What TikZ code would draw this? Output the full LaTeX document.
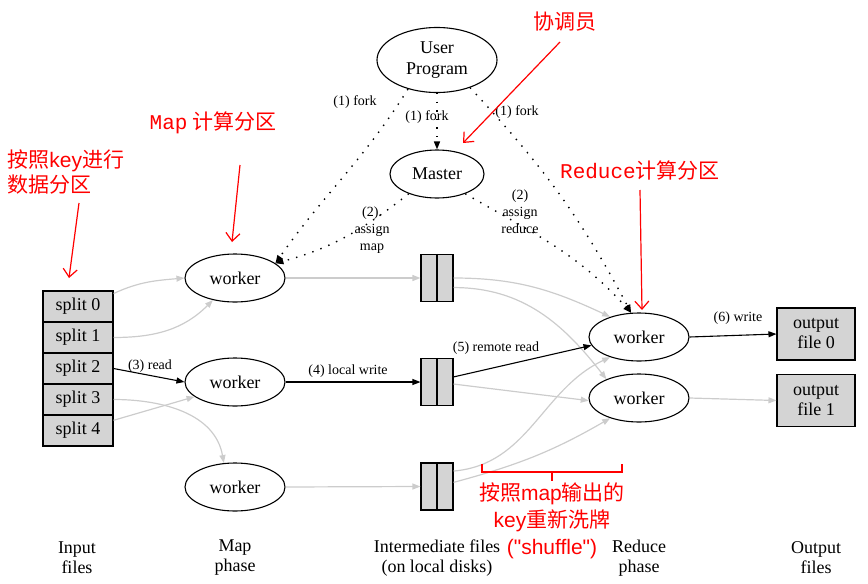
\documentclass[tikz,border=0pt]{standalone}
\usepackage{fontspec}
\setmainfont{Liberation Serif}
\newfontfamily\cjk{Noto Sans CJK SC}
\newfontfamily\redsans{Liberation Sans}
\newfontfamily\redmono{Liberation Mono}
\usetikzlibrary{shapes.geometric,arrows.meta}
\definecolor{boxgray}{gray}{0.83}
\definecolor{linegray}{gray}{0.8}
\tikzset{
  oval/.style={ellipse,draw,line width=0.55pt,inner sep=0pt,minimum width=50pt,minimum height=24pt,font=\fontsize{9}{10.5}\selectfont},
  splitbox/.style={draw,fill=boxgray,line width=0.55pt,inner sep=0pt,minimum width=35pt,minimum height=15.5pt,font=\fontsize{9}{10.5}\selectfont},
  filebox/.style={draw,fill=boxgray,line width=0.55pt,inner sep=0pt,minimum width=16pt,minimum height=23.5pt},
  outbox/.style={draw,fill=boxgray,line width=0.55pt,inner sep=0pt,minimum width=39pt,minimum height=26pt,align=center,font=\fontsize{9}{10}\selectfont},
  flow/.style={line width=0.55pt,-{Triangle[length=4pt,width=3pt]}},
  faint/.style={flow,draw=linegray,line width=0.6pt},
  ctrl/.style={flow,dash pattern=on 0.7pt off 3.6pt,line width=0.7pt},
  lbl/.style={font=\fontsize{7}{8.5}\selectfont,inner sep=0pt,align=center},
  caption/.style={font=\fontsize{9}{10}\selectfont,align=center,inner sep=0pt},
  note/.style={text=red,font=\cjk\fontsize{10.5}{12.5}\selectfont,inner sep=0pt},
  pointer/.style={draw=red,line width=0.6pt,-{Straight Barb[length=4pt,width=7pt]}}
}
\begin{document}
\begin{tikzpicture}[x=0.5pt,y=0.5pt]
    \useasboundingbox (0,0) rectangle (868,-584);
    \node[oval,minimum width=60pt,minimum height=32.5pt,align=center] (user) at (437,-60) {User\\Program};
    \node[oval,minimum width=47pt] (master) at (437,-174) {Master};
    \node[oval] (mapw1) at (235,-278) {worker};
    \node[oval] (mapw2) at (235,-382) {worker};
    \node[oval] (mapw3) at (235,-487) {worker};
    \node[oval] (redw1) at (639,-337) {worker};
    \node[oval] (redw2) at (639,-398) {worker};
    \foreach \i in {0,...,4}
        \node[splitbox] (split\i) at (78,{-306.5-31*\i}) {split \i};
    \foreach \i/\y in {1/278,2/382,3/486.5} {
        \node[filebox] (inter\i) at (437,-\y) {};
        \draw[line width=0.55pt] (inter\i.north) -- (inter\i.south);
    }
    \node[outbox] (out0) at (816,-334) {output\\file 0};
    \node[outbox] (out1) at (816,-400.5) {output\\file 1};

    \draw[ctrl] (user.south) -- (master.north);
    \draw[ctrl] (user.225) to[out=238,in=55] (mapw1.20);
    \draw[ctrl] (user.-40) to[out=-47,in=118] (redw1.108);
    \draw[ctrl] (master.215) to[out=218,in=15] (mapw1.20);
    \draw[ctrl] (master.-35) to[out=-30,in=132] (redw1.108);
    \node[lbl] (forkl) at (355,-102) {(1) fork};
    \node[lbl] (forkm) at (427,-117) {(1) fork};
    \node[lbl] (forkr) at (517,-112) {(1) fork};
    \node[lbl] (assignm) at (372,-230) {(2).\\assign\\map};
    \node[lbl] (assignr) at (520,-212) {(2)\\assign\\reduce};

    \draw[faint] (split0.20) to[out=25,in=185] (mapw1.west);
    \draw[faint] (split1.east) to[out=0,in=225] (mapw1.225);
    \draw[flow] (split2.east) -- (mapw2.west);
    \draw[faint] (split3.east) to[out=0,in=100] (mapw3.115);
    \draw[faint] (split4.16) -- (mapw2.200);
    \node[lbl] (readl) at (150,-366) {(3) read};

    \draw[faint] (mapw1.east) -- (inter1.west);
    \draw[flow] (mapw2.east) -- (inter2.west);
    \draw[faint] (mapw3.east) -- (inter3.west);
    \node[lbl] (writel) at (348,-371) {(4) local write};

    \draw[faint] (inter1.east) to[out=0,in=155] (redw1.145);
    \draw[faint] (inter1.-30) to[out=0,in=128] (redw2.150);
    \draw[flow] (inter2.17) -- (redw1.190);
    \draw[faint] (inter2.-7) -- (redw2.183);
    \draw[faint] (inter3.43) to[out=5,in=205] (redw1.215);
    \draw[faint] (inter3.14) to[out=15,in=210] (redw2.215);
    \node[lbl] (remotel) at (496,-348) {(5) remote read};

    \draw[flow] (redw1.east) -- (out0.west);
    \draw[faint] (redw2.east) -- (out1.west);
    \node[lbl] (outl) at (738,-318) {(6) write};

    \node[note] (coordnote) at (565,-22) {协调员};
    \coordinate (coordtail) at (560,-42);
    \coordinate (coordtip) at (463,-143);
    \draw[pointer] (coordtail) -- (coordtip);
    \node[note] (mapnote) at (213,-123) {{\redmono Map} 计算分区};
    \coordinate (maptail) at (240,-165);
    \coordinate (maptip) at (232,-242);
    \draw[pointer] (maptail) -- (maptip);
    \node[note,align=left,anchor=west] (keynote) at (7,-172) {按照{\redsans key}进行\\数据分区};
    \coordinate (keytail) at (79,-203);
    \coordinate (keytip) at (69,-278);
    \draw[pointer] (keytail) -- (keytip);
    \node[note] (rednote) at (640,-170) {{\redmono Reduce}计算分区};
    \coordinate (redtail) at (640,-190);
    \coordinate (redtip) at (642,-310);
    \draw[pointer] (redtail) -- (redtip);
    \draw[red,line width=1.1pt] (482,-464) -- (482,-472) -- (622,-472) -- (622,-464) (552,-472) -- (552,-481);
    \node[note,align=center,font=\cjk\fontsize{10.5}{13.5}\selectfont] (shufnote) at (552,-520.5) {按照{\redsans map}输出的\\{\redsans key}重新洗牌\\{\redsans ("shuffle")}};

    \node[caption] (capin) at (77,-558) {Input\\files};
    \node[caption] (capmap) at (235,-558) {Map\\phase};
    \node[caption] (capinter) at (437,-558) {Intermediate files\\(on local disks)};
    \node[caption] (capred) at (639,-558) {Reduce\\phase};
    \node[caption] (capout) at (816,-558) {Output\\files};
\end{tikzpicture}
\end{document}
